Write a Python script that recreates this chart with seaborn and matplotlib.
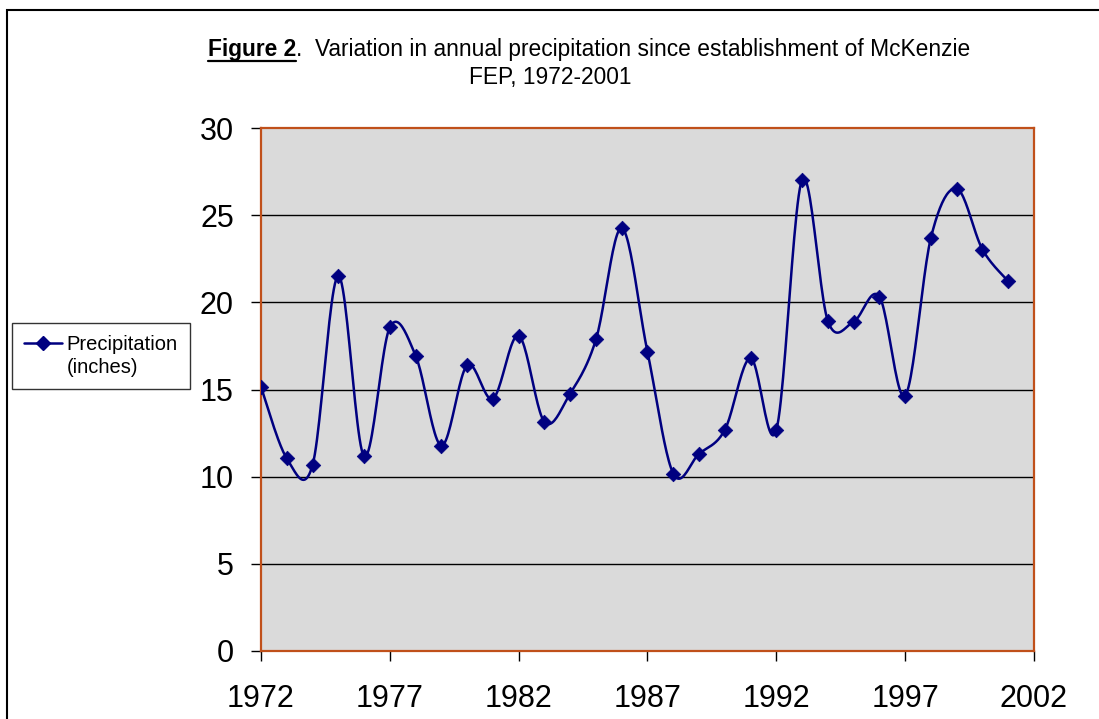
import numpy as np
import pandas as pd
import matplotlib
matplotlib.use("Agg")
import matplotlib.pyplot as plt
import seaborn as sns
from matplotlib.lines import Line2D
from matplotlib.patches import Rectangle

# annual precipitation, McKenzie FEP
years = list(range(1972, 2002))
precip = [15.14, 11.05, 10.66, 21.52, 11.17, 18.57, 16.95, 11.78, 16.39, 14.47,
          18.09, 13.14, 14.77, 17.87, 24.26, 17.15, 10.18, 11.31, 12.68, 16.80,
          12.68, 27.03, 18.93, 18.89, 20.33, 14.65, 23.71, 26.52, 23.03, 21.21]
x_ticks = [1972, 1977, 1982, 1987, 1992, 1997, 2002]
y_ticks = [0, 5, 10, 15, 20, 25, 30]

title_bold = "Figure 2"
title_rest = ".  Variation in annual precipitation since establishment of McKenzie"
title_line2 = "FEP, 1972-2001"
legend_lines = ["Precipitation", "(inches)"]

LINE_COLOR = "#000080"
FRAME_COLOR = "#C0501A"
BG_COLOR = "#DADADA"


def smooth_curve(x, y, steps=24):
    """Excel-like smoothed line: cubic bezier through points (Catmull-Rom tangents)."""
    pts = np.column_stack([x, y]).astype(float)
    padded = np.vstack([pts[0], pts, pts[-1]])
    t = np.linspace(0, 1, steps)[:, None]
    out = []
    for i in range(len(pts) - 1):
        p0, p1, p2, p3 = padded[i], padded[i + 1], padded[i + 2], padded[i + 3]
        c1 = p1 + (p2 - p0) / 6
        c2 = p2 - (p3 - p1) / 6
        seg = ((1 - t) ** 3) * p1 + 3 * ((1 - t) ** 2) * t * c1 + 3 * (1 - t) * t ** 2 * c2 + t ** 3 * p2
        out.append(seg if i == 0 else seg[1:])
    return np.vstack(out)


df = pd.DataFrame({"year": years, "precip": precip})
curve = smooth_curve(df["year"], df["precip"])
curve_df = pd.DataFrame({"year": curve[:, 0], "precip": curve[:, 1]})

sns.set_style("white")
plt.rcParams["font.family"] = ["Liberation Sans", "DejaVu Sans"]
plt.rcParams["text.color"] = "black"
plt.rcParams["xtick.color"] = "black"
plt.rcParams["ytick.color"] = "black"

fig = plt.figure(figsize=(10.99, 7.19), dpi=100)
ax = fig.add_axes([261 / 1099, 68 / 719, 773 / 1099, 523 / 719])
ax.set_facecolor(BG_COLOR)

sns.lineplot(data=curve_df, x="year", y="precip", sort=False, estimator=None,
             color=LINE_COLOR, linewidth=1.8, ax=ax, zorder=3)
sns.scatterplot(data=df, x="year", y="precip", marker="D", s=55, color=LINE_COLOR,
                edgecolor=LINE_COLOR, linewidth=0.5, ax=ax, zorder=4)

ax.set_xlim(x_ticks[0], x_ticks[-1])
ax.set_ylim(y_ticks[0], y_ticks[-1])
ax.set_xticks(x_ticks)
ax.set_yticks(y_ticks)
ax.set_xlabel("")
ax.set_ylabel("")
ax.tick_params(axis="both", direction="out", length=7.5, width=1, color="black",
               labelcolor="black", labelsize=22, left=True, bottom=True)
ax.tick_params(axis="y", pad=12)
ax.tick_params(axis="x", pad=16)
for y in y_ticks[1:-1]:
    ax.axhline(y, color="black", linewidth=1, zorder=1)
for s in ax.spines.values():
    s.set_color(FRAME_COLOR)
    s.set_linewidth(1.6)
    s.set_visible(True)

# legend (handle sits beside first line only, like Excel)
handle = Line2D([], [], color=LINE_COLOR, marker="D", markersize=7, linewidth=1.8)
blank = Line2D([], [], color="none")
leg = fig.legend([handle, blank], legend_lines, loc="upper left",
                 bbox_to_anchor=(12 / 1099, 1 - 323 / 719), bbox_transform=fig.transFigure,
                 fontsize=14.5, frameon=True, fancybox=False, shadow=False,
                 borderaxespad=0, borderpad=0.6, handlelength=1.9, handletextpad=0.2,
                 labelspacing=0.2, labelcolor="black")
leg.get_frame().set_edgecolor("black")
leg.get_frame().set_linewidth(1)

# title: bold underlined "Figure 2" followed by plain text
fs_title = 16.4
base1 = 1 - 56 / 719
t1 = fig.text(208 / 1099, base1, title_bold, fontsize=fs_title, fontweight="bold",
              va="baseline", ha="left", color="black")
fig.canvas.draw()
bb = t1.get_window_extent()
fig.text(bb.x1 / 1099, base1, title_rest, fontsize=fs_title, va="baseline", ha="left",
         color="black")
fig.add_artist(Line2D([bb.x0 / 1099, bb.x1 / 1099], [1 - 61 / 719, 1 - 61 / 719],
                      transform=fig.transFigure, color="black", linewidth=1.6))
fig.text(550 / 1099, 1 - 84 / 719, title_line2, fontsize=fs_title, va="baseline", ha="center",
         color="black")

# outer chart border
fig.add_artist(Rectangle((6.5 / 1099, -0.05), 1.2, 1 - 9.5 / 719 + 0.05,
                         transform=fig.transFigure, fill=False, edgecolor="black",
                         linewidth=1.5, clip_on=False))

fig.savefig("out.png", dpi=100)
